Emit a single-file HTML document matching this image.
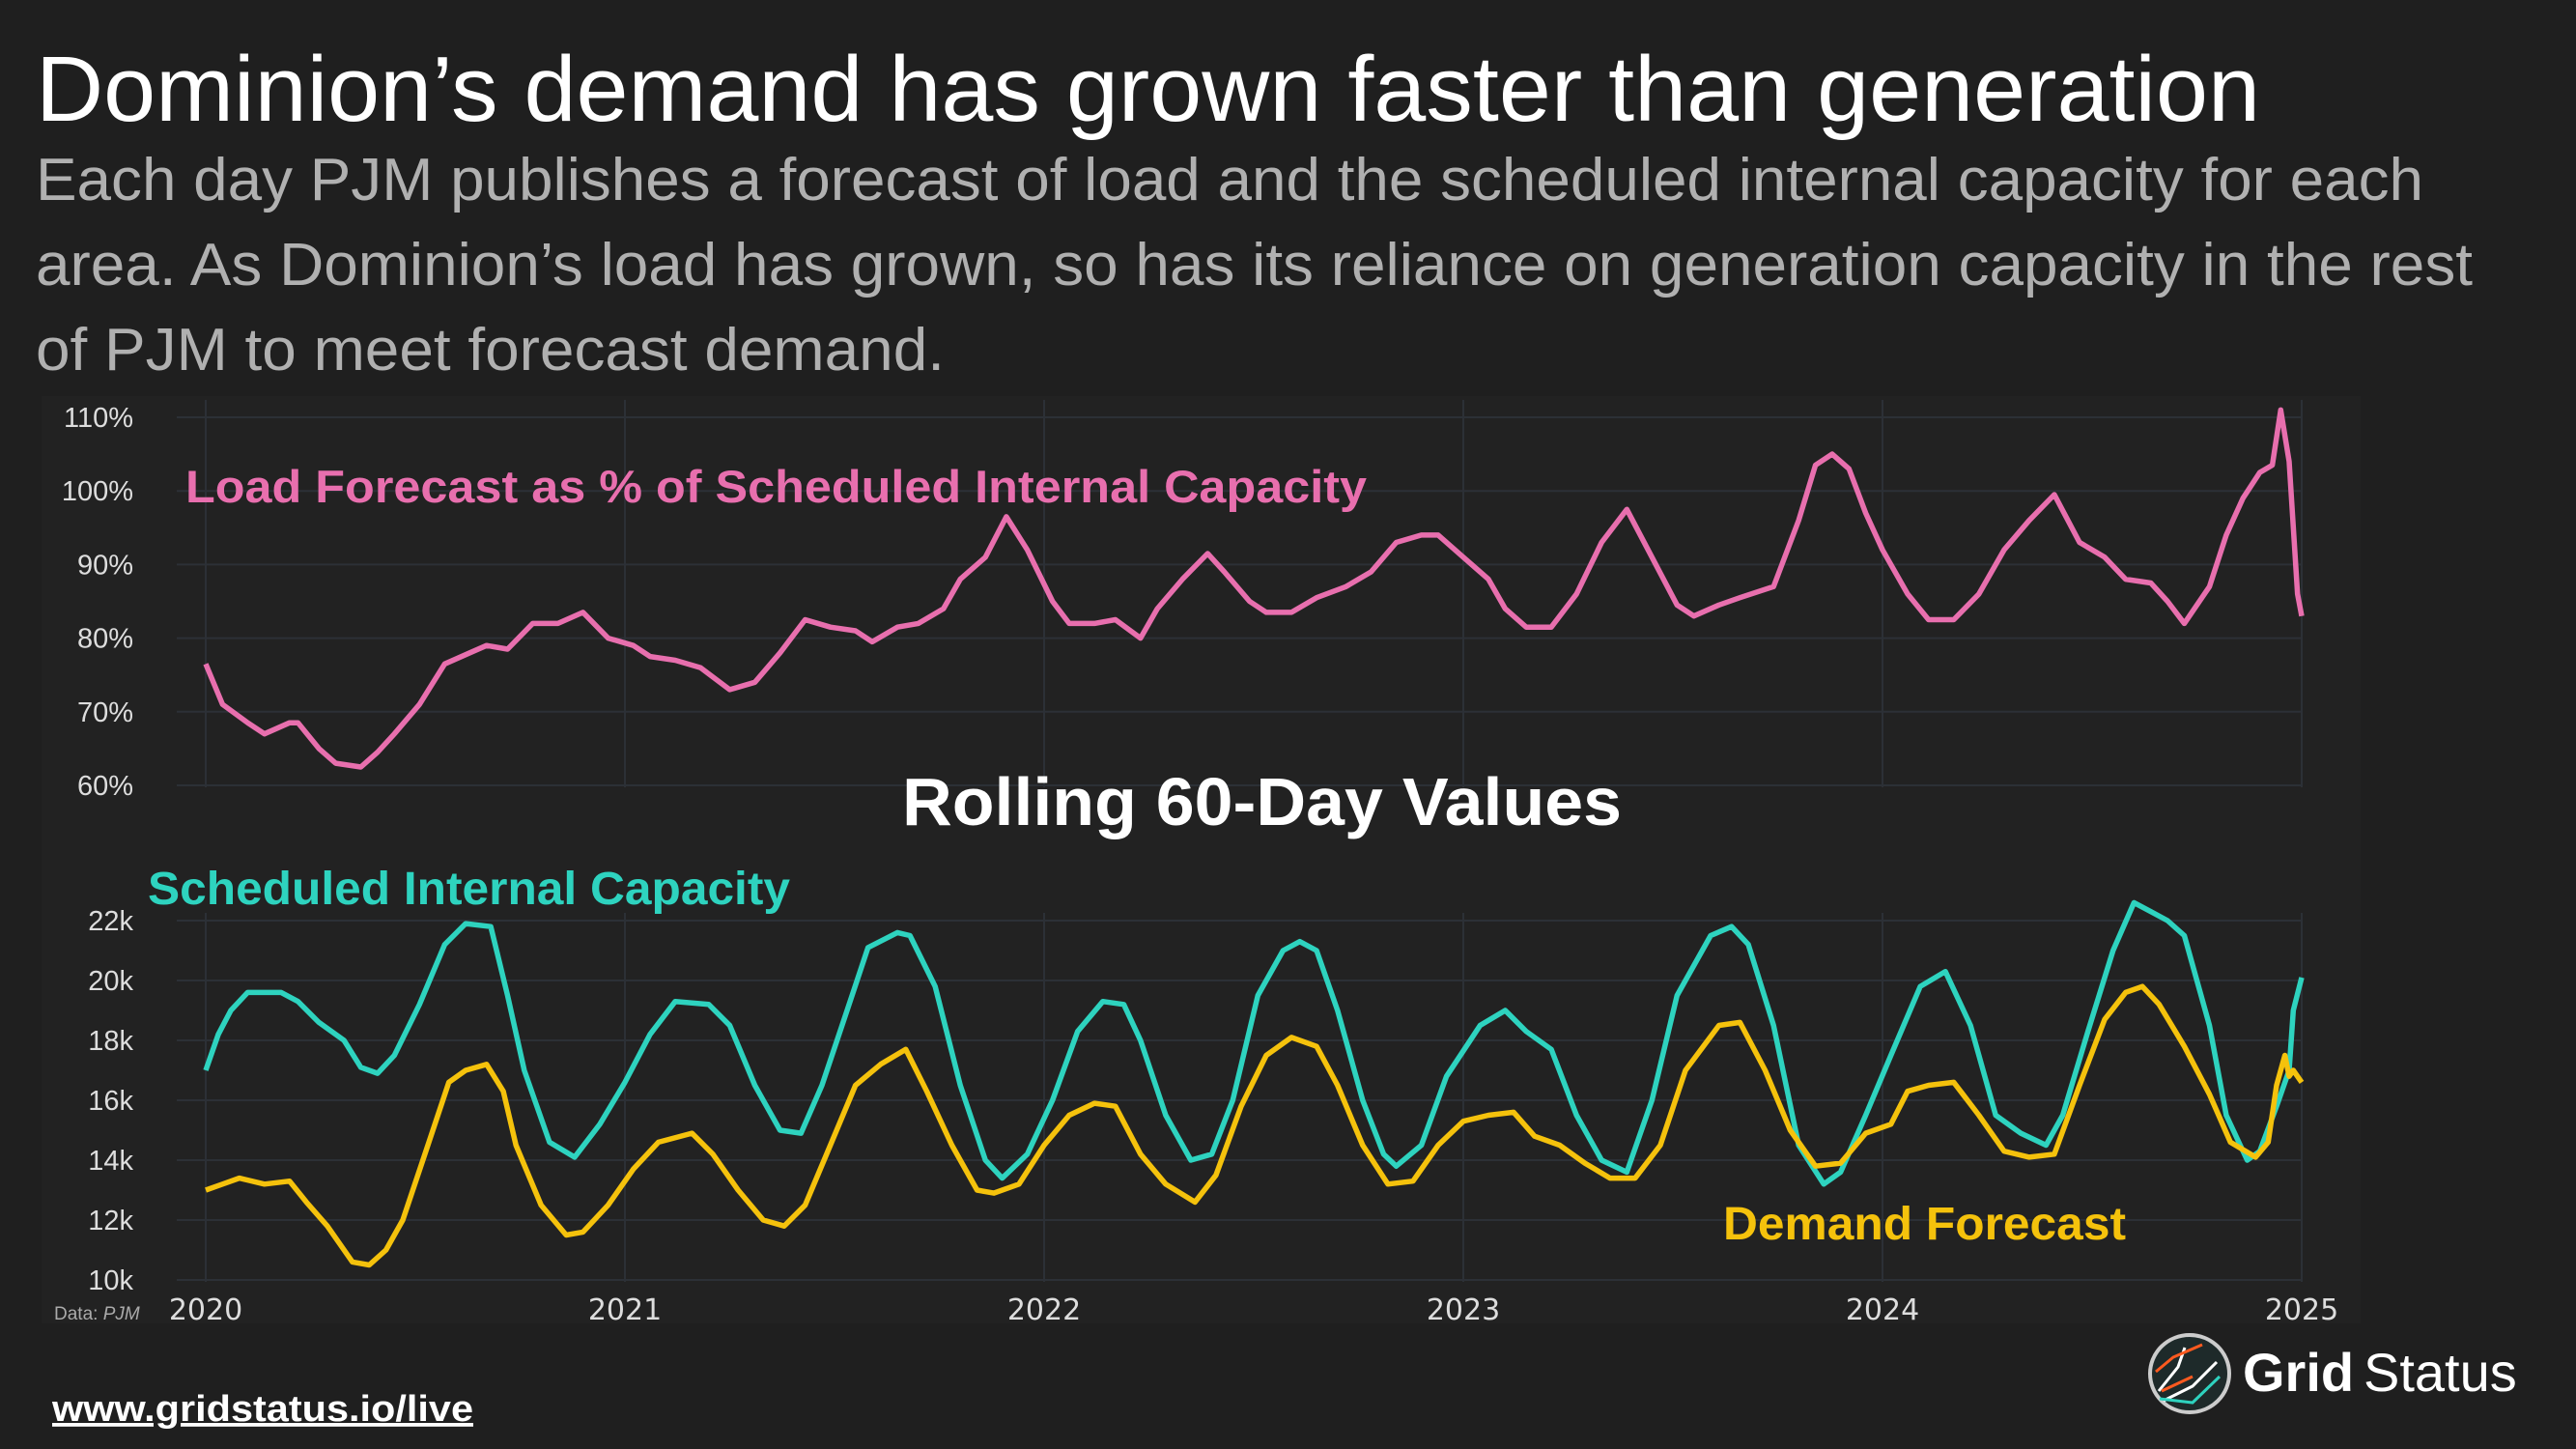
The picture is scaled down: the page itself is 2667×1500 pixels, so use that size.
<!DOCTYPE html>
<html><head><meta charset="utf-8"><style>
html,body{margin:0;padding:0;background:#1f1f1f;}
svg{display:block;font-family:"Liberation Sans",sans-serif;}
</style></head><body>
<svg id="c" width="2667" height="1500" viewBox="0 0 2667 1500" xmlns="http://www.w3.org/2000/svg">
<rect x="0" y="0" width="2667" height="1500" fill="#1f1f1f"/>
<rect x="43" y="410" width="2401" height="960" fill="#222222"/>
<text x="37" y="125" font-size="96" fill="#ffffff" textLength="2303" lengthAdjust="spacingAndGlyphs">Dominion’s demand has grown faster than generation</text>
<text x="37" y="207" font-size="62" fill="#b0b0b0" textLength="2472" lengthAdjust="spacingAndGlyphs">Each day PJM publishes a forecast of load and the scheduled internal capacity for each</text>
<text x="37" y="295" font-size="62" fill="#b0b0b0" textLength="2523" lengthAdjust="spacingAndGlyphs">area. As Dominion’s load has grown, so has its reliance on generation capacity in the rest</text>
<text x="37" y="383" font-size="62" fill="#b0b0b0" textLength="941" lengthAdjust="spacingAndGlyphs">of PJM to meet forecast demand.</text>
<g id="grid"></g>
<g id="series"></g>
<text x="192" y="520" font-size="47" font-weight="bold" fill="#e86fae" textLength="1223" lengthAdjust="spacingAndGlyphs">Load Forecast as % of  Scheduled Internal Capacity</text>
<text x="934" y="854" font-size="70" font-weight="bold" fill="#ffffff" textLength="745" lengthAdjust="spacingAndGlyphs">Rolling 60-Day Values</text>
<text x="153" y="936" font-size="48" font-weight="bold" fill="#2ed3bf" textLength="665" lengthAdjust="spacingAndGlyphs">Scheduled Internal Capacity</text>
<text x="1784" y="1283" font-size="48" font-weight="bold" fill="#f5c20c" textLength="417" lengthAdjust="spacingAndGlyphs">Demand Forecast</text>
<text x="56" y="1366" font-size="19" fill="#aaaaaa">Data: <tspan font-style="italic">PJM</tspan></text>
<text x="54" y="1471" font-size="38" font-weight="bold" fill="#ffffff" text-decoration="underline" textLength="436" lengthAdjust="spacingAndGlyphs">www.gridstatus.io/live</text>
<g>
<ellipse cx="2267" cy="1422" rx="41" ry="40" fill="#1e2a2a" stroke="#cccccc" stroke-width="4"/>
<path d="M2235 1440 L2255 1415 L2262 1395 M2240 1450 L2270 1435 L2295 1410" stroke="#ffffff" stroke-width="3" fill="none"/>
<path d="M2232 1420 L2250 1405 L2280 1392 M2238 1440 L2270 1425" stroke="#ff5a1f" stroke-width="3" fill="none"/>
<path d="M2236 1448 L2270 1452 L2298 1425" stroke="#2ed3bf" stroke-width="3" fill="none"/>
<text x="2322" y="1440" font-size="56" font-weight="bold" fill="#ffffff">Grid</text>
<text x="2447" y="1440" font-size="56" fill="#ffffff">Status</text>
</g>
</svg>
<script>
// Top panel: load forecast as % of capacity (years since 2020, percent)
const pctYears = [0,.04,.10,.14,.20,.22,.27,.31,.37,.41,.45,.51,.57,.63,.67,.72,.78,.84,.90,.96,1.02,1.06,1.12,1.18,1.25,1.31,1.37,1.43,1.49,1.55,1.59,1.65,1.70,1.76,1.80,1.86,1.91,1.96,2.02,2.06,2.12,2.17,2.23,2.27,2.33,2.39,2.43,2.49,2.53,2.59,2.65,2.72,2.78,2.84,2.90,2.94,3.00,3.06,3.10,3.15,3.21,3.27,3.33,3.39,3.45,3.51,3.55,3.61,3.66,3.74,3.80,3.84,3.88,3.92,3.96,4.00,4.06,4.11,4.17,4.23,4.29,4.35,4.41,4.47,4.53,4.58,4.64,4.68,4.72,4.78,4.82,4.86,4.90,4.93,4.95,4.97,4.99,5.00];
const pctValues = [76.5,71,68.5,67,68.5,68.5,65,63,62.5,64.5,67,71,76.5,78,79,78.5,82,82,83.5,80,79,77.5,77,76,73,74,78,82.5,81.5,81,79.5,81.5,82,84,88,91,96.5,92,85,82,82,82.5,80,84,88,91.5,89,85,83.5,83.5,85.5,87,89,93,94,94,91,88,84,81.5,81.5,86,93,97.5,91,84.5,83,84.5,85.5,87,96,103.5,105,103,97,92,86,82.5,82.5,86,92,96,99.5,93,91,88,87.5,85,82,87,94,99,102.5,103.5,111,104,86,83];
// Bottom panel: scheduled internal capacity (k MW)
const capYears = [0,.03,.06,.10,.18,.22,.27,.33,.37,.41,.45,.51,.57,.62,.68,.72,.76,.82,.88,.94,1.00,1.06,1.12,1.20,1.25,1.31,1.37,1.42,1.47,1.53,1.58,1.65,1.68,1.74,1.80,1.86,1.90,1.96,2.02,2.08,2.14,2.19,2.23,2.29,2.35,2.40,2.45,2.51,2.57,2.61,2.65,2.70,2.76,2.81,2.84,2.90,2.96,3.04,3.10,3.15,3.21,3.27,3.33,3.39,3.45,3.51,3.59,3.64,3.68,3.74,3.80,3.86,3.90,3.96,4.02,4.09,4.15,4.21,4.27,4.33,4.39,4.43,4.49,4.55,4.60,4.64,4.68,4.72,4.78,4.82,4.87,4.90,4.94,4.97,4.98,5.00];
const capValues = [17,18.2,19,19.6,19.6,19.3,18.6,18,17.1,16.9,17.5,19.2,21.2,21.9,21.8,19.5,17,14.6,14.1,15.2,16.6,18.2,19.3,19.2,18.5,16.5,15,14.9,16.5,19,21.1,21.6,21.5,19.8,16.5,14,13.4,14.2,16,18.3,19.3,19.2,18,15.5,14,14.2,16,19.5,21,21.3,21,19,16,14.2,13.8,14.5,16.8,18.5,19,18.3,17.7,15.5,14,13.6,16,19.5,21.5,21.8,21.2,18.5,14.5,13.2,13.6,15.5,17.5,19.8,20.3,18.5,15.5,14.9,14.5,15.5,18.3,21,22.6,22.3,22,21.5,18.5,15.5,14,14.3,15.8,17,19,20.1];
// Bottom panel: demand forecast (k MW)
const demYears = [0,.04,.08,.14,.20,.24,.29,.35,.39,.43,.47,.53,.58,.62,.67,.71,.74,.80,.86,.90,.96,1.02,1.08,1.16,1.21,1.27,1.33,1.38,1.43,1.49,1.55,1.61,1.67,1.72,1.78,1.84,1.88,1.94,2.00,2.06,2.12,2.17,2.23,2.29,2.36,2.41,2.47,2.53,2.59,2.65,2.70,2.76,2.82,2.88,2.94,3.00,3.06,3.12,3.17,3.23,3.29,3.35,3.41,3.47,3.53,3.61,3.66,3.72,3.78,3.84,3.90,3.96,4.02,4.06,4.11,4.17,4.23,4.29,4.35,4.41,4.47,4.53,4.58,4.62,4.66,4.72,4.78,4.83,4.89,4.92,4.94,4.96,4.97,4.98,5.00];
const demValues = [13,13.2,13.4,13.2,13.3,12.6,11.8,10.6,10.5,11,12,14.5,16.6,17,17.2,16.3,14.5,12.5,11.5,11.6,12.5,13.7,14.6,14.9,14.2,13,12,11.8,12.5,14.5,16.5,17.2,17.7,16.3,14.5,13,12.9,13.2,14.5,15.5,15.9,15.8,14.2,13.2,12.6,13.5,15.8,17.5,18.1,17.8,16.5,14.5,13.2,13.3,14.5,15.3,15.5,15.6,14.8,14.5,13.9,13.4,13.4,14.5,17,18.5,18.6,17,15,13.8,13.9,14.9,15.2,16.3,16.5,16.6,15.5,14.3,14.1,14.2,16.5,18.7,19.6,19.8,19.2,17.8,16.2,14.6,14.1,14.6,16.5,17.5,16.8,17,16.6];
const yearLabels = ["2020","2021","2022","2023","2024","2025"];
const pctTicks = [60,70,80,90,100,110];
const kTicks = [10,12,14,16,18,20,22];

const NS="http://www.w3.org/2000/svg";
const X0=213, X1=2383;
function xs(t){return X0+(X1-X0)*t/5;}
function yTop(v){return 813+(432-813)*(v-60)/50;}
function yBot(v){return 1325+(953-1325)*(v-10)/12;}
function mk(tag,attrs,parent){const e=document.createElementNS(NS,tag);for(const k in attrs)e.setAttribute(k,attrs[k]);parent.appendChild(e);return e;}
const grid=document.getElementById('grid'), ser=document.getElementById('series');
yearLabels.forEach((lab,i)=>{
  const x=xs(i);
  const l1=mk('line',{x1:x,x2:x,y1:414,y2:815,stroke:'#2c3036','stroke-width':2},grid);
  
  
  const l2=mk('line',{x1:x,x2:x,y1:945,y2:1327,stroke:'#2c3036','stroke-width':2},grid);
  
  
  const t=mk('text',{x:x,y:1366,'font-size':30,fill:'#dddddd','text-anchor':'middle','font-family':'DejaVu Sans, sans-serif'},grid);
  t.textContent=lab;
  
  
});
pctTicks.forEach(v=>{
  const y=yTop(v);
  const l=mk('line',{x1:183,x2:2383,y1:y,y2:y,stroke:'#2c3036','stroke-width':2},grid);
  
  
  const t=mk('text',{x:138,y:y+10,'font-size':29,fill:'#dddddd','text-anchor':'end'},grid);
  t.textContent=v+'%';
  
  
});
kTicks.forEach(v=>{
  const y=yBot(v);
  const l=mk('line',{x1:183,x2:2383,y1:y,y2:y,stroke:'#2c3036','stroke-width':2},grid);
  
  
  const t=mk('text',{x:138,y:y+10,'font-size':29,fill:'#dddddd','text-anchor':'end'},grid);
  t.textContent=v+'k';
  
  
});
function line(xsArr,vals,yf){
  return xsArr.map((t,i)=>(i?'L':'M')+xs(t).toFixed(1)+' '+yf(vals[i]).toFixed(1)).join(' ');
}
const p1=mk('path',{d:line(pctYears,pctValues,yTop),stroke:'#e86fae','stroke-width':5.5,fill:'none','stroke-linejoin':'round'},ser);


const p2=mk('path',{d:line(capYears,capValues,yBot),stroke:'#2ed3bf','stroke-width':5.5,fill:'none','stroke-linejoin':'round'},ser);


const p3=mk('path',{d:line(demYears,demValues,yBot),stroke:'#f5c20c','stroke-width':5.5,fill:'none','stroke-linejoin':'round'},ser);


</script>
</body></html>
